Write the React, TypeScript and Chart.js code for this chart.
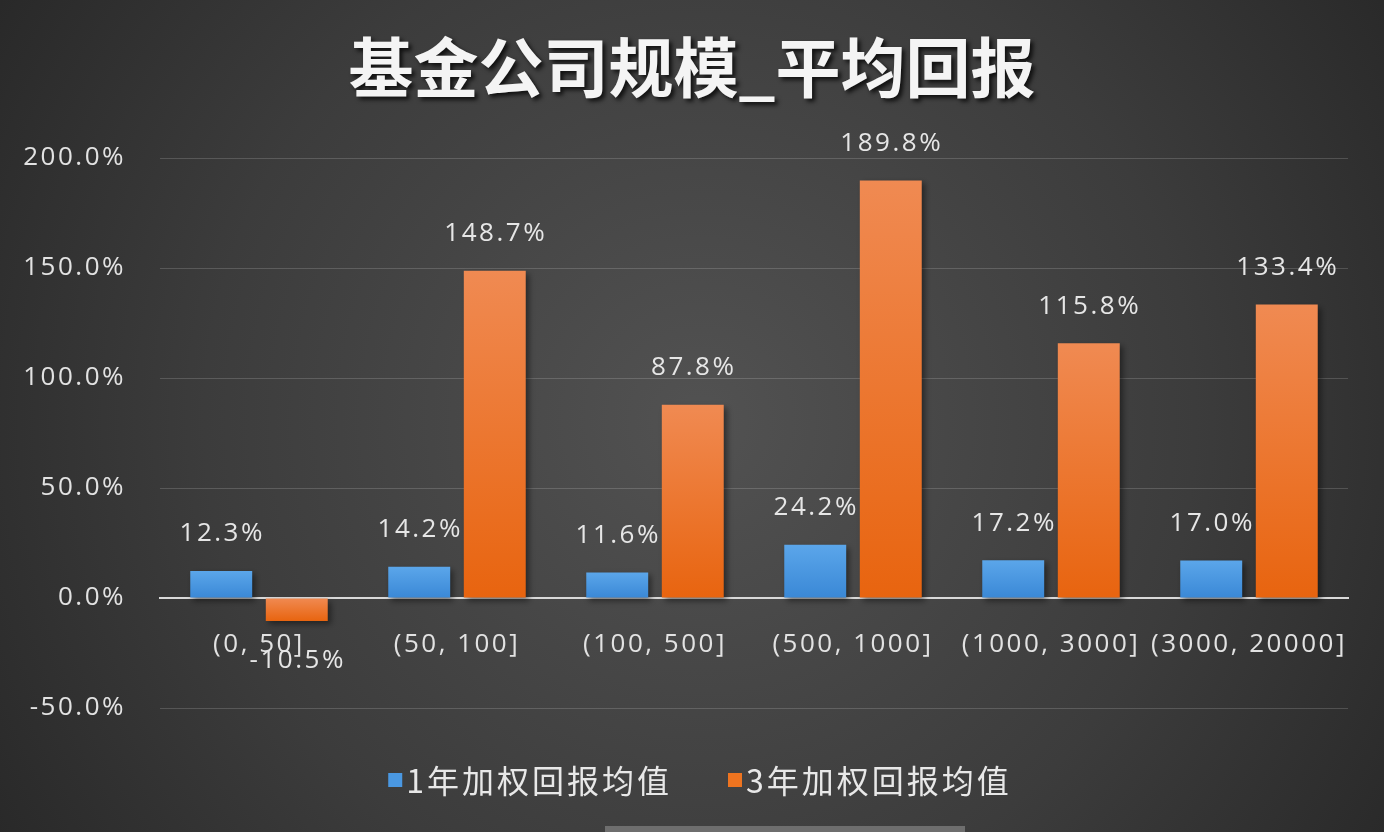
import React, { useEffect, useRef } from 'react';
import { Chart, registerables } from 'chart.js';

Chart.register(...registerables);

const titleText = '基金公司规模_平均回报';
const categories = ['(0, 50]', '(50, 100]', '(100, 500]', '(500, 1000]', '(1000, 3000]', '(3000, 20000]'];
const seriesNames = ['1年加权回报均值', '3年加权回报均值'];
const oneYearValues = [12.3, 14.2, 11.6, 24.2, 17.2, 17.0];
const threeYearValues = [-10.5, 148.7, 87.8, 189.8, 115.8, 133.4];
const yMin = -50;
const yMax = 200;
const yStep = 50;

const blueTop = '#5ba6ea';
const blueBottom = '#3a88d6';
const orangeTop = '#f08a52';
const orangeBottom = '#e8640f';

const TEXT_FONT = '"Open Sans", "Noto Sans CJK SC", sans-serif';
const CJK_FONT = '"Noto Sans CJK SC", "Open Sans", sans-serif';

function barFill(top: string, bottom: string) {
  return (ctx: any) => {
    const chart = ctx.chart;
    const y = chart.scales && chart.scales.y;
    if (!y || ctx.type !== 'data') return top;
    const v = ctx.raw as number;
    const p1 = y.getPixelForValue(Math.max(v, 0));
    const p0 = y.getPixelForValue(Math.min(v, 0));
    if (!isFinite(p1) || !isFinite(p0) || p1 === p0) return top;
    const g = chart.ctx.createLinearGradient(0, p1, 0, p0);
    g.addColorStop(0, top);
    g.addColorStop(1, bottom);
    return g;
  };
}

const decorPlugin = {
  id: 'decor',
  beforeDraw(chart: any) {
    const { ctx, width, height } = chart;
    ctx.save();
    const g = ctx.createRadialGradient(700, 420, 0, 700, 420, 900);
    g.addColorStop(0, '#525252');
    g.addColorStop(0.55, '#3c3c3c');
    g.addColorStop(1, '#242424');
    ctx.fillStyle = g;
    ctx.fillRect(0, 0, width, height);
    ctx.restore();
    (ctx as any).letterSpacing = '2.5px';
  },
  beforeDatasetsDraw(chart: any) {
    const ctx = chart.ctx;
    ctx.save();
    ctx.shadowColor = 'rgba(0,0,0,0.45)';
    ctx.shadowBlur = 6;
    ctx.shadowOffsetX = 3;
    ctx.shadowOffsetY = 3;
  },
  afterDatasetsDraw(chart: any) {
    const ctx = chart.ctx;
    ctx.restore();
    ctx.save();
    (ctx as any).letterSpacing = '2.5px';
    ctx.font = `26px ${TEXT_FONT}`;
    ctx.fillStyle = '#e6e6e6';
    ctx.textAlign = 'center';
    ctx.textBaseline = 'middle';
    chart.data.datasets.forEach((ds: any, i: number) => {
      const meta = chart.getDatasetMeta(i);
      meta.data.forEach((el: any, j: number) => {
        const v = ds.data[j] as number;
        const ty = v >= 0 ? el.y - 37 : el.y + 39;
        ctx.fillText(v.toFixed(1) + '%', el.x + 1, ty);
      });
    });
    ctx.restore();
  },
  afterDraw(chart: any) {
    const ctx = chart.ctx;
    // title
    ctx.save();
    (ctx as any).letterSpacing = '0px';
    ctx.font = `bold 65px ${CJK_FONT}`;
    ctx.textAlign = 'center';
    ctx.textBaseline = 'middle';
    ctx.shadowColor = 'rgba(0,0,0,0.75)';
    ctx.shadowBlur = 4;
    ctx.shadowOffsetX = 3;
    ctx.shadowOffsetY = 3;
    ctx.fillStyle = '#f4f4f4';
    ctx.fillText(titleText, 692, 67);
    ctx.restore();

    // legend
    ctx.save();
    (ctx as any).letterSpacing = '3px';
    ctx.font = `32px ${CJK_FONT}`;
    ctx.textBaseline = 'middle';
    ctx.textAlign = 'left';
    const box = 14;
    const gapBoxText = 4;
    const gapItems = 56;
    const items = chart.data.datasets.map((ds: any) => ({
      label: ds.label as string,
      color: ds.legendColor as string,
      w: ctx.measureText(ds.label).width,
    }));
    const total = items.reduce((s: number, it: any) => s + box + gapBoxText + it.w, 0) + gapItems * (items.length - 1);
    let x = 700 - total / 2;
    const cy = 780;
    items.forEach((it: any) => {
      ctx.fillStyle = it.color;
      ctx.fillRect(x, cy - box / 2, box, box);
      ctx.fillStyle = '#e8e8e8';
      ctx.fillText(it.label, x + box + gapBoxText, cy + 1);
      x += box + gapBoxText + it.w + gapItems;
    });
    ctx.restore();
  },
};

export default function App() {
  const canvasRef = useRef<HTMLCanvasElement | null>(null);

  useEffect(() => {
    document.body.style.margin = '0';
    const canvas = canvasRef.current;
    if (!canvas) return;
    const chart = new Chart(canvas, {
      type: 'bar',
      data: {
        labels: categories,
        datasets: [
          {
            label: seriesNames[0],
            data: oneYearValues,
            backgroundColor: barFill(blueTop, blueBottom),
            legendColor: '#4a98e2',
            barPercentage: 0.82,
            categoryPercentage: 0.763,
          } as any,
          {
            label: seriesNames[1],
            data: threeYearValues,
            backgroundColor: barFill(orangeTop, orangeBottom),
            legendColor: '#ee7420',
            barPercentage: 0.82,
            categoryPercentage: 0.763,
          } as any,
        ],
      },
      options: {
        animation: false,
        responsive: true,
        maintainAspectRatio: false,
        layout: { padding: { top: 158, bottom: 124, left: 0, right: 36 } },
        plugins: {
          legend: { display: false },
          title: { display: false },
          tooltip: { enabled: false },
        },
        scales: {
          x: {
            position: { y: 0 } as any,
            grid: { display: false },
            border: { display: true, color: '#d9d9d9', width: 2 },
            ticks: {
              color: '#e2e2e2',
              font: { size: 26, family: TEXT_FONT },
              padding: 23,
              autoSkip: false,
              maxRotation: 0,
              minRotation: 0,
            },
          },
          y: {
            min: yMin,
            max: yMax,
            grid: { color: 'rgba(255,255,255,0.16)', lineWidth: 1, drawTicks: false },
            border: { display: false },
            ticks: {
              stepSize: yStep,
              color: '#e2e2e2',
              font: { size: 26, family: TEXT_FONT },
              padding: 34,
              callback: (v: any) => Number(v).toFixed(1) + '%',
            },
            afterFit: (scale: any) => {
              scale.width = 160;
            },
          },
        },
      },
      plugins: [decorPlugin],
    });
    return () => chart.destroy();
  }, []);

  return (
    <div style={{ position: 'fixed', left: 0, top: 0, width: 1384, height: 832, overflow: 'hidden' }}>
      <canvas ref={canvasRef} />
      <div style={{ position: 'absolute', left: 605, top: 826, width: 360, height: 6, background: '#6e6e6e' }} />
    </div>
  );
}
